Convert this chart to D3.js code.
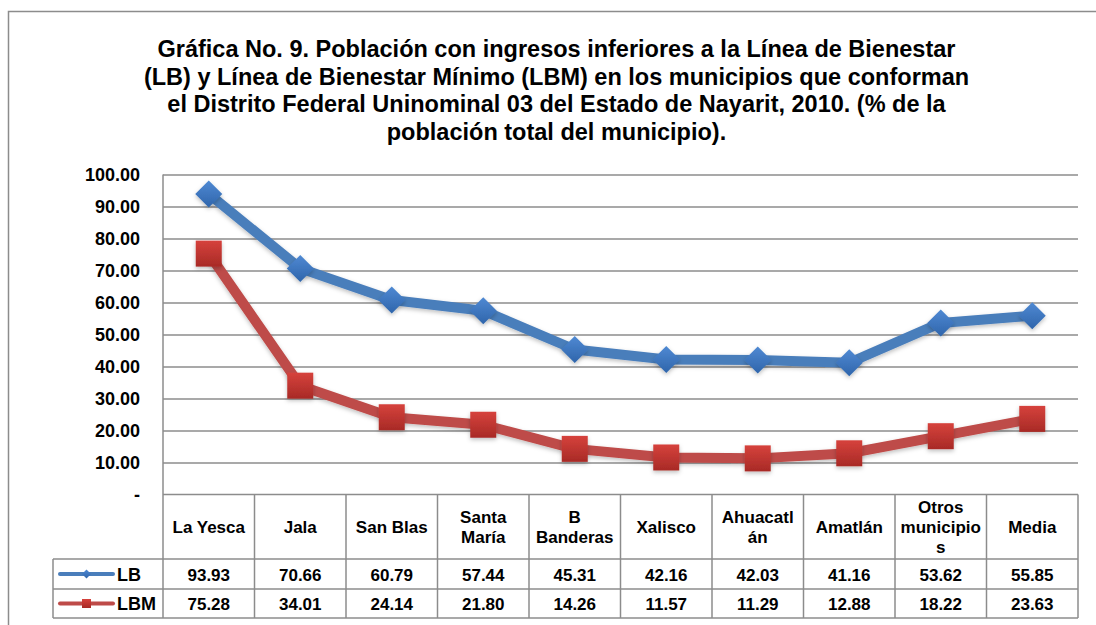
<!DOCTYPE html>
<html>
<head>
<meta charset="utf-8">
<script src="https://cdn.jsdelivr.net/npm/d3@7"></script>
<style>
  body { margin: 0; background: #fff; }
  text { font-family: "Liberation Sans", Arial, sans-serif; font-weight: bold; fill: #000; }
</style>
</head>
<body>
<div class="canvas"></div>
<script>
      // data
      const categories = ['La Yesca', 'Jala', 'San Blas', 'Santa María', 'B Banderas', 'Xalisco', 'Ahuacatlán', 'Amatlán', 'Otros municipios', 'Media'];
      const catLines = [['La Yesca'], ['Jala'], ['San Blas'], ['Santa', 'María'], ['B', 'Banderas'], ['Xalisco'], ['Ahuacatl', 'án'], ['Amatlán'], ['Otros', 'municipio', 's'], ['Media']];
      const lbValues = [93.93, 70.66, 60.79, 57.44, 45.31, 42.16, 42.03, 41.16, 53.62, 55.85];
      const lbmValues = [75.28, 34.01, 24.14, 21.80, 14.26, 11.57, 11.29, 12.88, 18.22, 23.63];
      const yTicks = [0, 10, 20, 30, 40, 50, 60, 70, 80, 90, 100];
      const titleLines = [
        'Gráfica No. 9. Población con ingresos inferiores a la Línea de Bienestar',
        '(LB) y Línea de Bienestar Mínimo (LBM) en los municipios que conforman',
        'el Distrito Federal Uninominal 03 del Estado de Nayarit, 2010. (% de la',
        'población total del municipio).'
      ];

      const width = 1096;
      const height = 625;
      const plot = { left: 163, right: 1078, top: 174.5, bottom: 494.5 };
      const rowCat = 559, rowLB = 589, rowLBM = 618;
      const legendLeft = 53;

      const blue = '#4A7EBB';
      const red = '#BE4B48';

      const svg = d3.select('.canvas')
        .append('svg')
        .attr('width', width)
        .attr('height', height);

      const defs = svg.append('defs');
      const gBlue = defs.append('linearGradient').attr('id', 'gblue')
        .attr('x1', 0).attr('y1', 0).attr('x2', 0).attr('y2', 1);
      gBlue.append('stop').attr('offset', '0%').attr('stop-color', '#4f89d3');
      gBlue.append('stop').attr('offset', '100%').attr('stop-color', '#2f65ab');
      const gRed = defs.append('linearGradient').attr('id', 'gred')
        .attr('x1', 0).attr('y1', 0).attr('x2', 0).attr('y2', 1);
      gRed.append('stop').attr('offset', '0%').attr('stop-color', '#d6423c');
      gRed.append('stop').attr('offset', '100%').attr('stop-color', '#a82a26');
      const glow = defs.append('filter').attr('id', 'glow')
        .attr('x', '-60%').attr('y', '-60%').attr('width', '220%').attr('height', '220%');
      glow.append('feDropShadow').attr('dx', 0).attr('dy', 2).attr('stdDeviation', 2)
        .attr('flood-color', '#000').attr('flood-opacity', 0.25);

      // outer frame
      svg.append('rect')
        .attr('x', 8.5).attr('y', 11.5)
        .attr('width', 1200).attr('height', 800)
        .attr('fill', 'none')
        .attr('stroke', '#8c8c8c')
        .attr('stroke-width', 1.5);

      // title
      svg.append('g')
        .selectAll('text')
        .data(titleLines)
        .enter()
        .append('text')
          .attr('x', 556.5)
          .attr('y', (d, i) => 57 + i * 27.7)
          .attr('text-anchor', 'middle')
          .style('font-size', '23.5px')
          .text(d => d);

      // scales
      const x = d3.scaleBand().domain(categories).range([plot.left, plot.right]);
      const y = d3.scaleLinear().domain([0, 100]).range([plot.bottom, plot.top]);

      // gridlines
      const grid = svg.append('g')
        .attr('transform', `translate(${plot.left},0)`)
        .call(d3.axisLeft(y).tickValues(yTicks.slice(1)).tickSize(-(plot.right - plot.left)).tickFormat(''));
      grid.select('.domain').remove();
      grid.selectAll('line').attr('stroke', '#8c8c8c').attr('stroke-width', 1.5);

      // y axis labels
      const yAxis = svg.append('g')
        .attr('transform', `translate(${plot.left},0)`)
        .call(d3.axisLeft(y).tickValues(yTicks).tickSize(0).tickPadding(23)
          .tickFormat(d => d === 0 ? '-' : d3.format('.2f')(d)));
      yAxis.select('.domain').remove();
      yAxis.selectAll('text')
        .style('font-family', '"Liberation Sans", Arial, sans-serif')
        .style('font-weight', 'bold')
        .style('font-size', '18px')
        .attr('fill', '#000');

      // left plot border
      svg.append('line')
        .attr('x1', plot.left).attr('x2', plot.left)
        .attr('y1', plot.top).attr('y2', rowCat)
        .attr('stroke', '#8c8c8c').attr('stroke-width', 1.5);

      // table
      const table = svg.append('g').attr('stroke', '#8c8c8c').attr('stroke-width', 1.5);
      table.append('line').attr('x1', plot.left).attr('x2', plot.right).attr('y1', plot.bottom).attr('y2', plot.bottom);
      [rowCat, rowLB, rowLBM].forEach(ry => {
        table.append('line').attr('x1', legendLeft).attr('x2', plot.right).attr('y1', ry).attr('y2', ry);
      });
      table.selectAll('.vline')
        .data(categories)
        .enter()
        .append('line')
          .attr('x1', d => x(d) + x.bandwidth())
          .attr('x2', d => x(d) + x.bandwidth())
          .attr('y1', plot.bottom)
          .attr('y2', rowLBM);
      table.append('line').attr('x1', legendLeft).attr('x2', legendLeft).attr('y1', rowCat).attr('y2', rowLBM);
      table.append('line').attr('x1', plot.left).attr('x2', plot.left).attr('y1', rowCat).attr('y2', rowLBM);

      // category labels
      const catG = svg.append('g');
      categories.forEach((c, i) => {
        const lines = catLines[i];
        const mid = (plot.bottom + rowCat) / 2;
        const t = catG.append('text')
          .attr('text-anchor', 'middle')
          .style('font-size', '17px');
        lines.forEach((ln, j) => {
          t.append('tspan')
            .attr('x', x(c) + x.bandwidth() / 2)
            .attr('y', mid + 6.2 + (j - (lines.length - 1) / 2) * 19.7)
            .text(ln);
        });
      });

      // value rows
      const rows = [
        { name: 'LB', values: lbValues, top: rowCat, bottom: rowLB },
        { name: 'LBM', values: lbmValues, top: rowLB, bottom: rowLBM }
      ];
      rows.forEach(r => {
        svg.append('g')
          .selectAll('text')
          .data(r.values)
          .enter()
          .append('text')
            .attr('x', (d, i) => x(categories[i]) + x.bandwidth() / 2)
            .attr('y', (r.top + r.bottom) / 2 + 6.5)
            .attr('text-anchor', 'middle')
            .style('font-size', '17px')
            .text(d => d3.format('.2f')(d));
      });

      // line generator
      const line = d3.line()
        .x((d, i) => x(categories[i]) + x.bandwidth() / 2)
        .y(d => y(d));

      const diamond = s => `M0,${-s}L${s},0L0,${s}L${-s},0Z`;
      const square = s => `M${-s},${-s}H${s}V${s}H${-s}Z`;

      const series = [
        { name: 'LB', values: lbValues, color: blue, fill: 'url(#gblue)', shape: diamond, size: 13.5, small: 4.5 },
        { name: 'LBM', values: lbmValues, color: red, fill: 'url(#gred)', shape: square, size: 13, small: 4.5 }
      ];

      series.forEach(s => {
        svg.append('path')
          .datum(s.values)
          .attr('fill', 'none')
          .attr('stroke', s.color)
          .attr('stroke-width', 10)
          .attr('stroke-linejoin', 'round')
          .attr('filter', 'url(#glow)')
          .attr('d', line);

        svg.append('g')
          .selectAll('path')
          .data(s.values)
          .enter()
          .append('path')
            .attr('transform', (d, i) => `translate(${x(categories[i]) + x.bandwidth() / 2},${y(d)})`)
            .attr('d', s.shape(s.size))
            .attr('fill', s.fill)
            .attr('filter', 'url(#glow)');
      });

      // legend in table
      rows.forEach((r, k) => {
        const s = series[k];
        const cy = (r.top + r.bottom) / 2;
        svg.append('line')
          .attr('x1', 60).attr('x2', 113)
          .attr('y1', cy).attr('y2', cy)
          .attr('stroke', s.color)
          .attr('stroke-width', 4)
          .attr('stroke-linecap', 'round');
        svg.append('path')
          .attr('transform', `translate(86.5,${cy})`)
          .attr('d', s.shape(s.small))
          .attr('fill', s.fill);
        svg.append('text')
          .attr('x', 117)
          .attr('y', cy + 6.5)
          .style('font-size', '18px')
          .text(r.name);
      });
</script>
</body>
</html>
